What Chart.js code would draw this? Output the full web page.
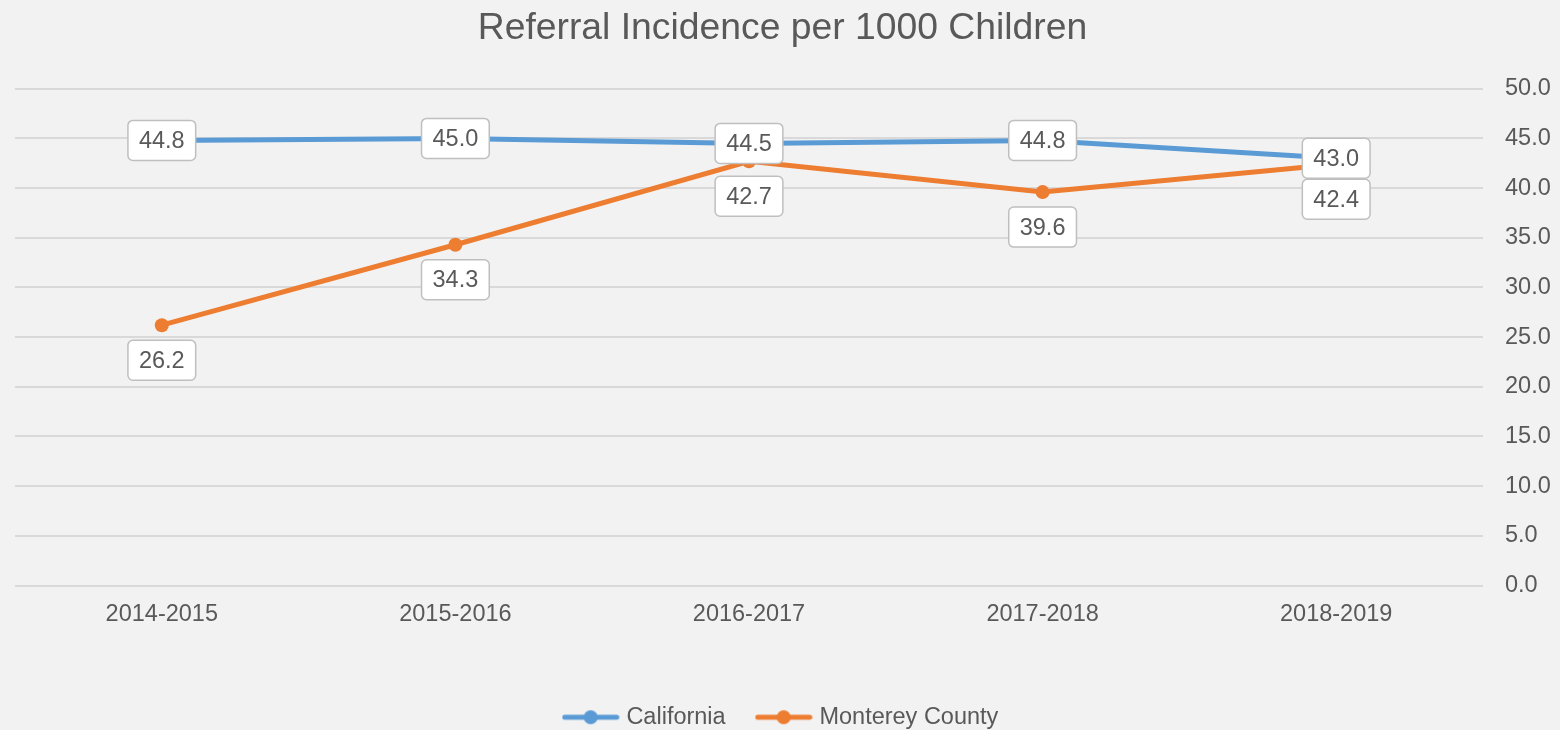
<!DOCTYPE html>
<html>
<head>
<meta charset="utf-8">
<script src="https://cdn.jsdelivr.net/npm/chart.js@4/dist/chart.umd.min.js"></script>
<style>
  html, body { margin: 0; padding: 0; background: #f2f2f2; }
  #wrap { width: 1560px; height: 730px; position: relative; }
</style>
</head>
<body>
<div id="wrap"><canvas id="referrals"></canvas></div>
<script>
// values
const years = ['2014-2015', '2015-2016', '2016-2017', '2017-2018', '2018-2019'];
const california = [44.8, 45.0, 44.5, 44.8, 43.0];
const monterey = [26.2, 34.3, 42.7, 39.6, 42.4];

const blue = '#5b9bd5';
const orange = '#ed7d31';
const grey = '#595959';
const fontFam = '"Liberation Sans", Arial, sans-serif';
const txtSize = 23.5;

// little line + dot icon for the legend
function legendIcon(color) {
    const c = document.createElement('canvas');
    c.width = 58; c.height = 16;
    const g = c.getContext('2d');
    g.strokeStyle = color;
    g.lineWidth = 5;
    g.lineCap = 'round';
    g.beginPath(); g.moveTo(3, 8); g.lineTo(55, 8); g.stroke();
    g.fillStyle = color;
    g.beginPath(); g.arc(29, 8, 7, 0, Math.PI * 2); g.fill();
    return c;
}

// boxed value labels (California centred on the point, Monterey below it)
const boxLabels = {
    id: 'boxLabels',
    afterDatasetsDraw(chart) {
        const ctx = chart.ctx;
        ctx.save();
        ctx.font = txtSize + 'px ' + fontFam;
        ctx.textAlign = 'center';
        ctx.textBaseline = 'middle';
        chart.data.datasets.forEach((ds, i) => {
            const meta = chart.getDatasetMeta(i);
            meta.data.forEach((pt, j) => {
                const txt = ds.data[j].toFixed(1);
                const w = ctx.measureText(txt).width + 22;
                const h = 40;
                const cx = pt.x;
                const cy = i === 0 ? pt.y : pt.y + 35;
                ctx.beginPath();
                ctx.roundRect(cx - w / 2, cy - h / 2, w, h, 5);
                ctx.fillStyle = '#ffffff';
                ctx.fill();
                ctx.lineWidth = 1.5;
                ctx.strokeStyle = '#bfbfbf';
                ctx.stroke();
                ctx.fillStyle = grey;
                ctx.fillText(txt, cx, cy + 1);
            });
        });
        ctx.restore();
    }
};

const ctx = document.getElementById('referrals').getContext('2d');

new Chart(ctx, {
    type: 'line',
    data: {
        labels: years,
        datasets: [{
            label: 'California',
            data: california,
            borderColor: blue,
            backgroundColor: blue,
            borderWidth: 5,
            pointRadius: 7,
            pointBorderWidth: 0,
            tension: 0
        }, {
            label: 'Monterey County',
            data: monterey,
            borderColor: orange,
            backgroundColor: orange,
            borderWidth: 5,
            pointRadius: 7,
            pointBorderWidth: 0,
            tension: 0
        }]
    },
    options: {
        responsive: true,
        maintainAspectRatio: false,
        animation: false,
        layout: {
            padding: { left: 15, right: 10, top: 0, bottom: -9 }
        },
        plugins: {
            tooltip: { enabled: false },
            title: {
                display: true,
                text: 'Referral Incidence per 1000 Children',
                color: grey,
                font: { size: 37.3, family: fontFam, weight: 'normal' },
                padding: { top: 6, bottom: 38 }
            },
            legend: {
                position: 'bottom',
                labels: {
                    color: grey,
                    font: { size: txtSize, family: fontFam },
                    usePointStyle: true,
                    pointStyleWidth: 48,
                    padding: 34,
                    generateLabels(chart) {
                        const items = Chart.defaults.plugins.legend.labels.generateLabels(chart);
                        items.forEach((it, k) => {
                            it.pointStyle = legendIcon(k === 0 ? blue : orange);
                        });
                        return items;
                    }
                }
            }
        },
        scales: {
            x: {
                offset: true,
                grid: { display: false },
                border: { display: false },
                ticks: {
                    color: grey,
                    font: { size: txtSize, family: fontFam },
                    padding: 7
                },
                afterFit(scale) { scale.height = 86; }
            },
            y: {
                position: 'right',
                min: 0,
                max: 50,
                grid: { color: '#d9d9d9', lineWidth: 2, drawTicks: false },
                border: { display: false },
                ticks: {
                    stepSize: 5,
                    color: grey,
                    font: { size: txtSize, family: fontFam },
                    padding: 22,
                    callback: v => v.toFixed(1)
                },
                afterFit(scale) { scale.width = 67; }
            }
        }
    },
    plugins: [boxLabels]
});
</script>
</body>
</html>
